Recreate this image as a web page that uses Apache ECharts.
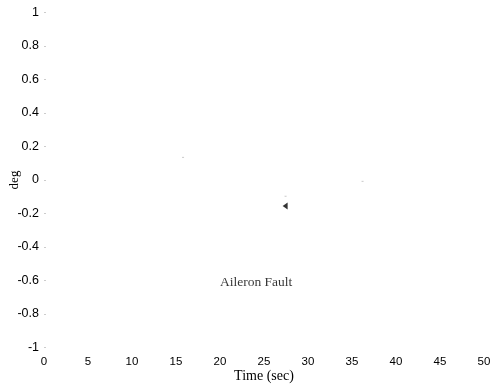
<!DOCTYPE html>
<html><head><meta charset="utf-8">
<script src="https://cdn.jsdelivr.net/npm/echarts@6/dist/echarts.min.js"></script>
<style>html,body{margin:0;padding:0;background:#fff}#c{width:497px;height:387px}</style>
</head><body><div id="c"></div>
<script>
var xTicks = [0, 5, 10, 15, 20, 25, 30, 35, 40, 45, 50];
var yTicks = [-1, -0.8, -0.6, -0.4, -0.2, 0, 0.2, 0.4, 0.6, 0.8, 1];
var markerPoint = [[27.4, -0.155]];
var faintDots = [[27.45, -0.097], [15.8, 0.135], [36.2, -0.008]];
var annotation = [[24.1, -0.61, 'Aileron Fault']];

var chart = echarts.init(document.getElementById('c'));
chart.setOption({
  animation: false,
  backgroundColor: '#fff',
  grid: {left: 44, right: 13, top: 12.5, bottom: 39.5, containLabel: false, outerBoundsMode: 'none'},
  xAxis: {
    type: 'value', min: xTicks[0], max: xTicks[xTicks.length - 1], interval: 5,
    axisLine: {show: false}, splitLine: {show: false},
    axisTick: {show: false},
    axisLabel: {color: '#000', fontFamily: 'Liberation Sans', fontSize: 11.5, margin: 8},
    name: 'Time (sec)', nameLocation: 'middle', nameGap: 22, nameMoveOverlap: false,
    nameTextStyle: {color: '#000', fontFamily: 'Liberation Serif', fontSize: 14}
  },
  yAxis: {
    type: 'value', min: yTicks[0], max: yTicks[yTicks.length - 1], interval: 0.2,
    axisLine: {show: false}, splitLine: {show: false},
    axisTick: {show: true, inside: true, length: 2, lineStyle: {color: '#ccc', width: 1}},
    axisLabel: {color: '#000', fontFamily: 'Liberation Sans', fontSize: 12.5, margin: 5,
      formatter: function (v) { return String(Math.round(v * 10) / 10); }},
    name: 'deg', nameLocation: 'middle', nameGap: 23, nameMoveOverlap: false,
    nameTextStyle: {color: '#000', fontFamily: 'Liberation Serif', fontSize: 13}
  },
  series: [
    {type: 'scatter', data: markerPoint, symbol: 'triangle', symbolSize: [7, 5], symbolRotate: 90,
      itemStyle: {color: '#000'}},
    {type: 'scatter', data: faintDots, symbol: 'rect', symbolSize: [2, 1],
      itemStyle: {color: '#bbb'}},
    {type: 'scatter', data: annotation, symbolSize: 0,
      label: {show: true, position: 'inside', formatter: function (p) { return p.data[2]; },
        color: '#000', fontFamily: 'Liberation Serif', fontSize: 13.5}}
  ]
});
</script></body></html>
